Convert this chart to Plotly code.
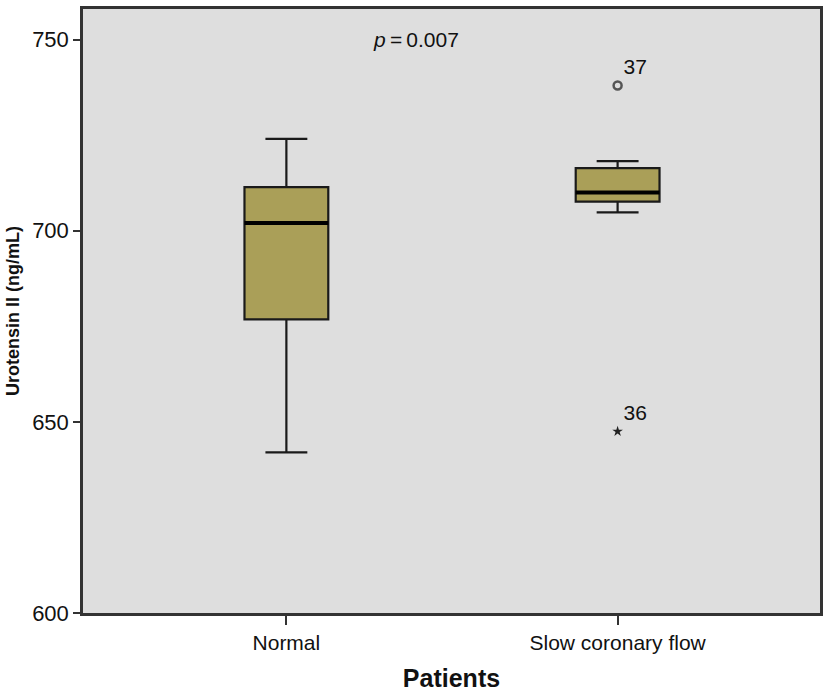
import plotly.graph_objects as go

categories = ["Normal", "Slow coronary flow"]
lower_whisker = [642.0, 704.8]
q1 = [676.8, 707.6]
median = [702.0, 710.0]
q3 = [711.4, 716.4]
upper_whisker = [724.0, 718.2]

outlier_circle_y = [738.0]
outlier_circle_label = ["37"]
outlier_star_y = [647.5]
outlier_star_label = ["36"]
outlier_group = 1

p_text = "<i>p</i>\u2009=\u20090.007"

FONT = "Liberation Sans, Arial"
FILL = "#aa9f58"
BOX_W = 0.253
xpos = list(range(len(categories)))

fig = go.Figure()
fig.add_trace(go.Box(
    x=xpos, q1=q1, median=median, q3=q3,
    lowerfence=lower_whisker, upperfence=upper_whisker,
    fillcolor=FILL, line=dict(color="#1a1a1a", width=2.2),
    width=BOX_W, whiskerwidth=0.5, boxpoints=False, showlegend=False,
    hoverinfo="skip",
))
# thicker median lines
for i, m in zip(xpos, median):
    fig.add_trace(go.Scatter(
        x=[i - BOX_W / 2, i + BOX_W / 2], y=[m, m], mode="lines",
        line=dict(color="#000000", width=4), showlegend=False, hoverinfo="skip",
    ))
fig.add_trace(go.Scatter(
    x=[outlier_group] * len(outlier_circle_y), y=outlier_circle_y,
    mode="markers+text", text=outlier_circle_label, textposition="top right",
    textfont=dict(family=FONT, size=21, color="#111"),
    marker=dict(symbol="circle-open", size=8, color="#555", line=dict(width=2.5, color="#555")),
    showlegend=False,
))
fig.add_trace(go.Scatter(
    x=[outlier_group] * len(outlier_star_y), y=outlier_star_y,
    mode="markers+text", text=outlier_star_label, textposition="top right",
    textfont=dict(family=FONT, size=21, color="#111"),
    marker=dict(symbol="star", size=8, color="#222"),
    showlegend=False,
))

fig.add_annotation(
    x=0.452, xref="paper", y=750, yref="y", text=p_text, showarrow=False,
    font=dict(family=FONT, size=21, color="#111"),
)

fig.update_layout(
    width=829, height=694,
    margin=dict(l=83, r=7, t=6, b=79),
    paper_bgcolor="white", plot_bgcolor="#dedede",
    font=dict(family=FONT, size=21, color="#111"),
    xaxis=dict(
        range=[-0.614, 1.611], tickvals=xpos, ticktext=categories,
        showgrid=False, zeroline=False, showline=True, linecolor="#333",
        linewidth=2.5, mirror=True, ticks="outside", ticklen=9, tickwidth=2,
        tickcolor="#333", tickfont=dict(size=21),
        title=dict(text="<b>Patients</b>", font=dict(size=25), standoff=17),
    ),
    yaxis=dict(
        range=[600, 758], tickvals=[600, 650, 700, 750],
        showgrid=False, zeroline=False, showline=True, linecolor="#333",
        linewidth=2.5, mirror=True, ticks="outside", ticklen=7, tickwidth=2,
        tickcolor="#333", tickfont=dict(size=22),
        title=dict(text="<b>Urotensin II (ng/mL)</b>", font=dict(size=18), standoff=8),
    ),
)

fig.write_html("out.html", config={"displayModeBar": False},
               post_script="document.body.style.margin='0';")
